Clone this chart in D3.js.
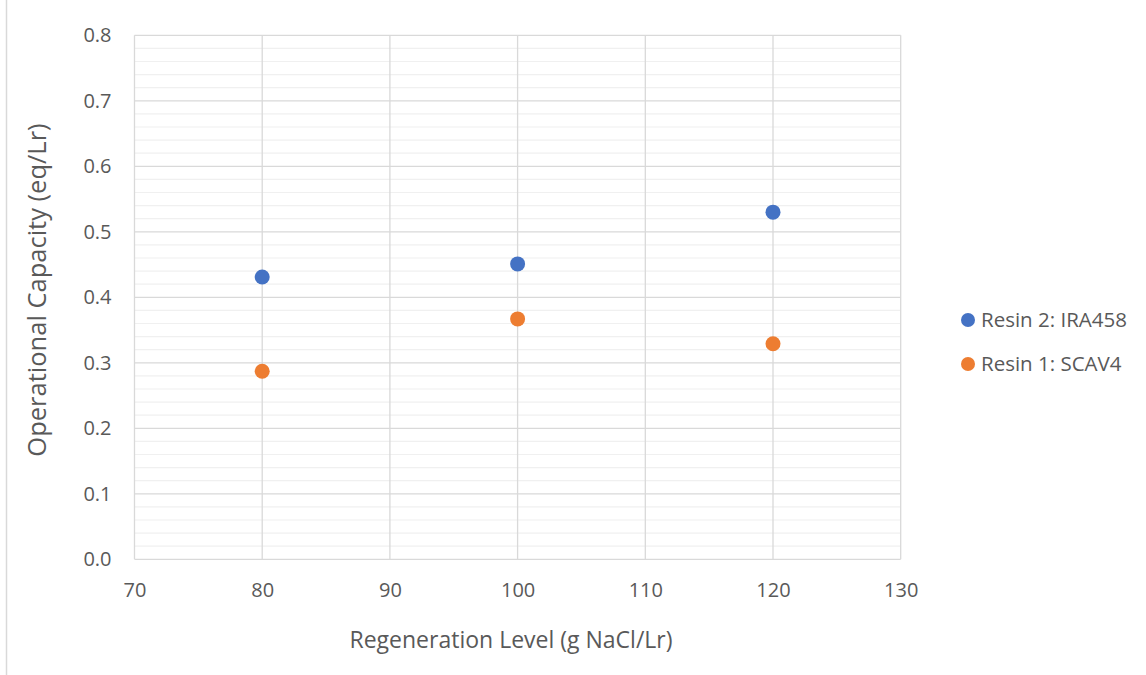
<!DOCTYPE html>
<html>
<head>
<meta charset="utf-8">
<script src="https://cdn.jsdelivr.net/npm/d3@7"></script>
<style>
  body { margin: 0; background: #fff; }
  text { font-family: "Open Sans", "Noto Sans", sans-serif; fill: #595959; }
</style>
</head>
<body>
<div class="container"></div>
<script>
// data
const regenLevels = [80, 100, 120]
const resin2 = [0.431, 0.451, 0.530]
const resin1 = [0.287, 0.367, 0.329]
const seriesNames = ["Resin 2: IRA458", "Resin 1: SCAV4"]
const seriesColors = ["#4472C4", "#ED7D31"]
const xTicks = [70, 80, 90, 100, 110, 120, 130]
const yTicks = [0, 0.1, 0.2, 0.3, 0.4, 0.5, 0.6, 0.7, 0.8]

const w = 1146
const h = 675
const plotLeft = 134.5, plotRight = 900.7, plotTop = 35.3, plotBottom = 559.3

const svg = d3.select(".container")
  .append("svg")
  .attr("width", w)
  .attr("height", h)

// chart frame edge on the left
svg.append("line")
  .attr("x1", 6.5).attr("x2", 6.5)
  .attr("y1", 0).attr("y2", h)
  .attr("stroke", "#d9d9d9")
  .attr("stroke-width", 1.5)

const xScale = d3.scaleLinear().domain([70, 130]).range([plotLeft, plotRight])
const yScale = d3.scaleLinear().domain([0, 0.8]).range([plotBottom, plotTop])

// minor gridlines
const minor = d3.range(0, 0.8001, 0.02).filter(v => Math.abs(v * 10 - Math.round(v * 10)) > 1e-6)
svg.append("g")
  .selectAll("line")
  .data(minor)
  .enter()
  .append("line")
  .attr("x1", plotLeft).attr("x2", plotRight)
  .attr("y1", d => yScale(d)).attr("y2", d => yScale(d))
  .attr("stroke", "#f0f0f0")
  .attr("stroke-width", 1.2)

// major gridlines
svg.append("g")
  .selectAll("line")
  .data(yTicks)
  .enter()
  .append("line")
  .attr("x1", plotLeft).attr("x2", plotRight)
  .attr("y1", d => yScale(d)).attr("y2", d => yScale(d))
  .attr("stroke", "#d9d9d9")
  .attr("stroke-width", 1.3)

svg.append("g")
  .selectAll("line")
  .data(xTicks)
  .enter()
  .append("line")
  .attr("x1", d => xScale(d)).attr("x2", d => xScale(d))
  .attr("y1", plotTop).attr("y2", plotBottom)
  .attr("stroke", "#d9d9d9")
  .attr("stroke-width", 1.3)

// axes (labels only)
const yAxis = d3.axisLeft(yScale).tickValues(yTicks).tickFormat(d3.format(".1f")).tickSize(0).tickPadding(23)
const xAxis = d3.axisBottom(xScale).tickValues(xTicks).tickSize(0).tickPadding(24)

svg.append("g")
  .attr("transform", "translate(" + plotLeft + ",0)")
  .call(yAxis)
  .call(g => g.select(".domain").remove())
  .selectAll("text")
  .style("font-size", "20px")
  .attr("fill", "#595959")

svg.append("g")
  .attr("transform", "translate(0," + plotBottom + ")")
  .call(xAxis)
  .call(g => g.select(".domain").remove())
  .selectAll("text")
  .style("font-size", "20px")
  .attr("fill", "#595959")

// points
const series = [resin2, resin1]
series.forEach((vals, i) => {
  svg.append("g")
    .selectAll("circle")
    .data(vals)
    .enter()
    .append("circle")
    .attr("cx", (d, j) => xScale(regenLevels[j]))
    .attr("cy", d => yScale(d))
    .attr("r", 7.5)
    .attr("fill", seriesColors[i])
})

// axis titles
svg.append("text")
  .attr("x", 511)
  .attr("y", 648)
  .style("text-anchor", "middle")
  .style("font-size", "23px")
  .text("Regeneration Level (g NaCl/Lr)")

svg.append("text")
  .attr("transform", "rotate(-90)")
  .attr("y", 46)
  .attr("x", -290)
  .style("text-anchor", "middle")
  .style("font-size", "25.5px")
  .text("Operational Capacity (eq/Lr)")

// legend
const legend = svg.append("g")
seriesNames.forEach((name, i) => {
  const y = 320 + i * 44
  legend.append("circle")
    .attr("cx", 968).attr("cy", y).attr("r", 7)
    .attr("fill", seriesColors[i])
  legend.append("text")
    .attr("x", 981).attr("y", y + 7)
    .style("font-size", "20.5px")
    .text(name)
})
</script>
</body>
</html>
